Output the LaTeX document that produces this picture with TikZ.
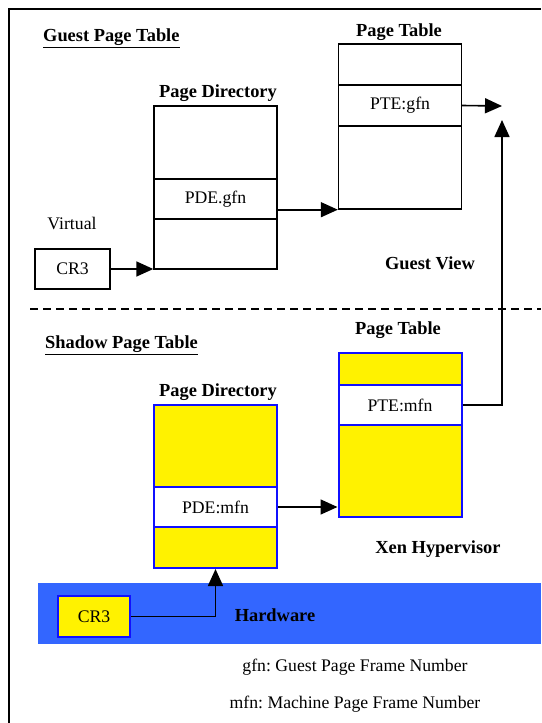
\documentclass[tikz,border=0pt]{standalone}
\usepackage{fontspec}
\setmainfont{Liberation Serif}
\usetikzlibrary{arrows.meta}
\definecolor{hwblue}{HTML}{3366FF}
\definecolor{bordblue}{HTML}{1010FF}
\frenchspacing
\begin{document}
\begin{tikzpicture}[x=1pt,y=-1pt,
  gbox/.style={draw=black, line width=1.4pt, inner sep=0pt, minimum width=123pt},
  sbox/.style={draw=bordblue, line width=2pt, inner sep=0pt, minimum width=123pt, fill=yellow},
  srow/.style={sbox, fill=white},
  reg/.style={font=\fontsize{17.7}{20}\selectfont\frenchspacing, inner sep=0pt},
  lbl/.style={font=\fontsize{18.4}{21}\selectfont\bfseries, inner sep=0pt},
  conn/.style={draw=black, line width=1.6pt},
  arr/.style={conn, -{Triangle[length=17pt,width=15pt]}}
]
\useasboundingbox (0,0) rectangle (541,723);
% outer frame
\draw[line width=1.4pt] (9,723) -- (9,9) -- (541,9);
% dashed separator
\draw[line width=1.6pt, dash pattern=on 8pt off 5pt] (30,309) -- (541,309);

% ---------- Guest ----------
\node[lbl, anchor=west] (gtitle) at (43,38.5) {\underline{Guest Page Table}};
\node[lbl] (gpdlbl) at (218,93) {Page Directory};
\node[gbox, minimum height=163pt] (gpd) at (215.5,187.5) {};
\node[gbox, minimum height=40pt, reg] (gpde) at (215.5,199) {PDE.gfn};
\node[reg] (virt) at (72,223) {Virtual};
\node[gbox, minimum width=75pt, minimum height=40pt, reg] (gcr3) at (72.5,269) {CR3};
\node[lbl] (gptlbl) at (399,32) {Page Table};
\node[gbox, minimum height=165pt] (gpt) at (400,126.5) {};
\node[gbox, minimum height=41pt, reg] (gpte) at (400,105.5) {PTE:gfn};
\node[lbl] (gview) at (430,263) {Guest View};
\coordinate (gtip) at (502,106);

\draw[arr] (gcr3.east) -- (gcr3.east -| gpd.west);
\draw[arr] (gpt.south west -| gpd.east) -- (gpt.south west);
\draw[arr] (gpte.east) -- (gtip);

% ---------- Shadow ----------
\node[lbl, anchor=west] (stitle) at (45,345.5) {\underline{Shadow Page Table}};
\node[lbl] (spdlbl) at (218,392) {Page Directory};
\node[sbox, minimum height=163pt] (spd) at (215.5,486.5) {};
\node[srow, minimum height=40pt, reg] (spde) at (215.5,507) {PDE:mfn};
\node[lbl] (sptlbl) at (398,330) {Page Table};
\node[sbox, minimum height=164pt] (spt) at (400,435) {};
\node[srow, minimum height=40pt, reg] (spte) at (400,405) {PTE:mfn};
\node[lbl] (xen) at (438,549) {Xen Hypervisor};
\coordinate (sup) at (502,120);

\draw[arr] (spde.east) -- (spde.east -| spt.west);
\draw[arr] (spte.east) -| (sup);

% ---------- Hardware ----------
\fill[hwblue] (38,583) rectangle (541,644);
\node[lbl] (hw) at (275,615) {Hardware};
\node[sbox, minimum width=72pt, minimum height=41pt, reg] (hcr3) at (94,616.5) {CR3};
\draw[arr] (hcr3.east) -| (spd.south);

% ---------- legend ----------
\node[reg] (lg1) at (355,667) {gfn: Guest Page Frame Number};
\node[reg] (lg2) at (355,704) {mfn: Machine Page Frame Number};
\end{tikzpicture}
\end{document}
